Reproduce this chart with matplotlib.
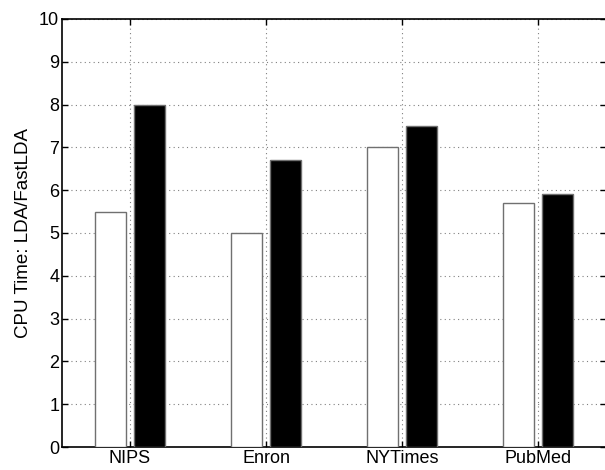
import numpy as np
import matplotlib
matplotlib.use("Agg")
import matplotlib.pyplot as plt

plt.rcParams['font.family'] = ['Liberation Sans', 'DejaVu Sans']

# Data
datasets = ['NIPS', 'Enron', 'NYTimes', 'PubMed']
white_vals = [5.5, 5.0, 7.0, 5.7]
black_vals = [8.0, 6.7, 7.5, 5.9]

x = np.arange(1, len(datasets) + 1)
bw = 0.23
off = 0.142

fig = plt.figure(figsize=(6.05, 4.70), dpi=100)
ax = fig.add_axes([62 / 605, 23 / 470, 544 / 605, 428 / 470])

ax.bar(x - off, white_vals, width=bw, color='white', edgecolor='#707070', linewidth=1.0, zorder=3)
ax.bar(x + off, black_vals, width=bw, color='black', edgecolor='#707070', linewidth=1.0, zorder=3)

ax.set_xlim(0.5, 4.5)
ax.set_ylim(0, 10)
ax.set_xticks(x)
ax.set_xticklabels(datasets)
ax.set_yticks(np.arange(0, 11, 1))
ax.tick_params(direction='in', top=True, right=True, labelsize=13, length=4, width=1.0, pad=2)
ax.grid(True, linestyle=(0, (1, 3)), color='#808080', linewidth=0.8, zorder=0)
for s in ax.spines.values():
    s.set_linewidth(1.2)
ax.set_ylabel('CPU Time: LDA/FastLDA', fontsize=13.5, labelpad=5)

fig.savefig('out.png', dpi=100)
